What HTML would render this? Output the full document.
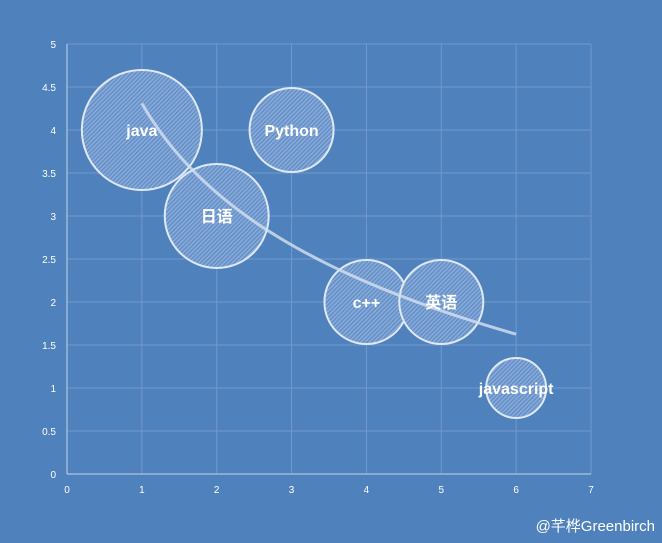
<!DOCTYPE html>
<html><head><meta charset="utf-8"><style>
html,body{margin:0;padding:0;background:#4f81bd;}
svg{display:block;font-family:"Liberation Sans","Noto Sans CJK SC",sans-serif;}
</style></head><body>
<svg id="chart" width="662" height="543" viewBox="0 0 662 543">
<defs>
<pattern id="hatch" patternUnits="userSpaceOnUse" width="3" height="3" patternTransform="rotate(45)">
<rect width="3" height="3" fill="#88aad8"/>
<rect width="1.3" height="3" fill="#5f8cc6"/>
</pattern>
</defs>
<rect width="662" height="543" fill="#4f81bd"/>
<g id="grid"></g><g id="axes"></g><g id="bubbles"></g><g id="trend"></g><g id="labels"></g>
<text x="655" y="531" text-anchor="end" fill="#ffffff" font-size="15">@芊桦Greenbirch</text>
</svg>
<script>
const names = ["java","日语","Python","c++","英语","javascript"];
const xVals = [1,2,3,4,5,6];
const yVals = [4,3,4,2,2,1];
const sizes = [10,7.5,4.9,4.9,4.9,2.5];
const xTicks = ["0","1","2","3","4","5","6","7"];
const yTicks = ["0","0.5","1","1.5","2","2.5","3","3.5","4","4.5","5"];

const X0=67,X1=591,Y0=474,Y1=44;
const sx=v=>X0+(v/7)*(X1-X0);
const sy=v=>Y0-(v/5)*(Y0-Y1);
const rs=s=>60*Math.sqrt(s/10);
const NS="http://www.w3.org/2000/svg";
function mk(tag,attrs,parent){const e=document.createElementNS(NS,tag);for(const k in attrs)e.setAttribute(k,attrs[k]);parent.appendChild(e);return e;}
const grid=document.getElementById('grid'),axes=document.getElementById('axes'),bub=document.getElementById('bubbles'),trend=document.getElementById('trend'),labels=document.getElementById('labels');

xTicks.forEach((t,i)=>{const v=parseFloat(t);
 if(v>0){const l=mk('line',{x1:sx(v),x2:sx(v),y1:Y1,y2:Y0,stroke:'#7299cc','stroke-width':1},grid);
 }
 const tx=mk('text',{x:sx(v),y:Y0+19,'text-anchor':'middle',fill:'#fff','font-size':10},axes);tx.textContent=t;
 
});
yTicks.forEach((t,i)=>{const v=parseFloat(t);
 if(v>0){const l=mk('line',{x1:X0,x2:X1,y1:sy(v),y2:sy(v),stroke:'#7299cc','stroke-width':1},grid);
 }
 const tx=mk('text',{x:X0-11,y:sy(v)+4,'text-anchor':'end',fill:'#fff','font-size':10},axes);tx.textContent=t;
 
});
let a1=mk('line',{x1:X0,x2:X0,y1:Y1,y2:Y0,stroke:'#c0d2ea','stroke-width':1},axes);

let a2=mk('line',{x1:X0,x2:X1,y1:Y0,y2:Y0,stroke:'#c0d2ea','stroke-width':1},axes);


names.forEach((n,i)=>{
 const c=mk('circle',{cx:sx(xVals[i]),cy:sy(yVals[i]),r:rs(sizes[i]),fill:'url(#hatch)',stroke:'#dfe8f5','stroke-width':2},bub);
 
 const t=mk('text',{x:sx(xVals[i]),y:sy(yVals[i])+6,'text-anchor':'middle',fill:'#fff','font-size':16,'font-weight':'bold'},labels);
 t.textContent=n;
});

const lx=xVals.map(Math.log),mx=lx.reduce((a,b)=>a+b)/lx.length,my=yVals.reduce((a,b)=>a+b)/yVals.length;
let cov=0,vr=0;lx.forEach((v,i)=>{cov+=(v-mx)*(yVals[i]-my);vr+=(v-mx)*(v-mx);});
const b=cov/vr,a=my-b*mx;
let d='';const xmin=Math.min(...xVals),xmax=Math.max(...xVals);
for(let k=0;k<=60;k++){const x=xmin+(xmax-xmin)*k/60;d+=(k?'L':'M')+sx(x).toFixed(1)+' '+sy(a+b*Math.log(x)).toFixed(1);}
const p=mk('path',{d:d,fill:'none',stroke:'#d6e1f0','stroke-width':3,'stroke-opacity':0.8},trend);

</script>
</body></html>
